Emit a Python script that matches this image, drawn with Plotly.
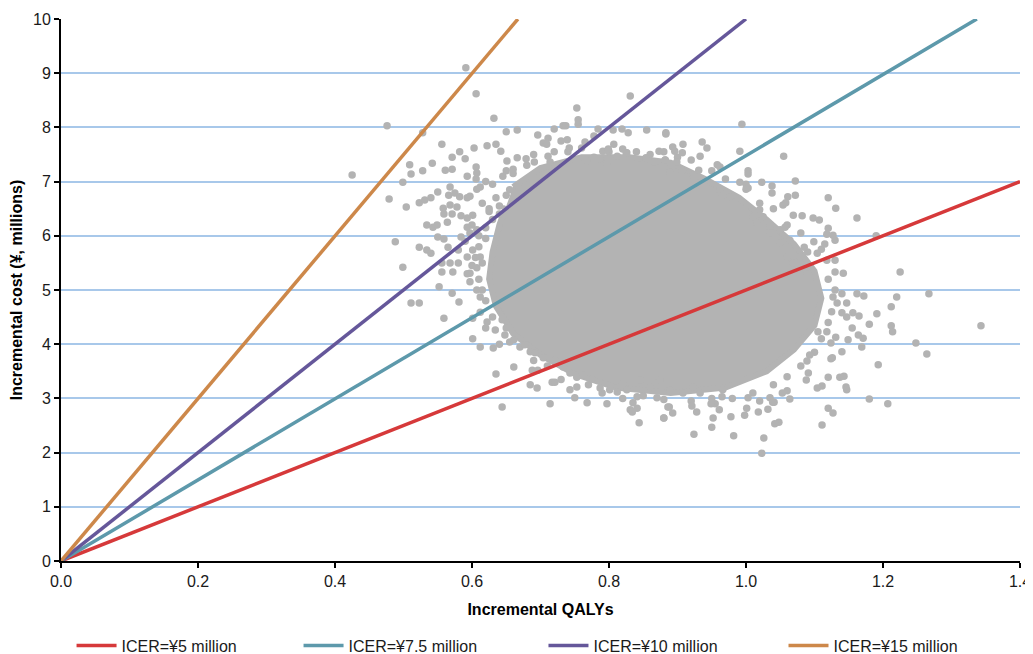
import plotly.graph_objects as go

# ---- ICER threshold lines (end points) ----
line_names = ["ICER=¥5 million", "ICER=¥7.5 million", "ICER=¥10 million", "ICER=¥15 million"]
line_qaly = [[0, 1.4], [0, 1.337], [0, 1.0], [0, 0.667]]
line_cost = [[0, 7.0], [0, 10.0], [0, 10.0], [0, 10.0]]
line_colors = ["#d6393a", "#5d99ab", "#65579a", "#cd884a"]

# ---- dense core of the simulation cloud (outline) ----
core_qaly = [0.66, 0.70, 0.76, 0.83, 0.89, 0.94, 0.99, 1.03, 1.07, 1.10, 1.11, 1.10, 1.07, 1.03,
             0.97, 0.89, 0.81, 0.75, 0.70, 0.66, 0.635, 0.625, 0.63, 0.64, 0.65]
core_cost = [6.9, 7.25, 7.45, 7.45, 7.35, 7.05, 6.7, 6.3, 5.85, 5.35, 4.85, 4.35, 3.9, 3.5,
             3.2, 3.1, 3.2, 3.45, 3.8, 4.2, 4.7, 5.2, 5.7, 6.2, 6.55]

# ---- simulation points along the edge of the core ----
edge_qaly = [0.62, 0.63, 0.645, 0.66, 0.68, 0.69, 0.72, 0.74, 0.76, 0.80, 0.82, 0.84, 0.86, 0.88,
             0.90, 0.92, 0.95, 0.97, 1.00, 1.02, 1.04, 1.06, 1.08, 1.09, 1.11, 1.12, 1.13, 1.125,
             1.12, 1.11, 1.10, 1.08, 1.06, 1.04, 1.01, 0.98, 0.95, 0.92, 0.88, 0.85, 0.82, 0.79,
             0.77, 0.73, 0.71, 0.69, 0.67, 0.65, 0.63, 0.62, 0.615, 0.61, 0.605, 0.61, 0.625,
             0.60, 0.59, 0.60, 0.62, 0.64]
edge_cost = [7.0, 6.95, 7.1, 7.15, 7.3, 7.5, 7.55, 7.55, 7.62, 7.55, 7.6, 7.55, 7.5, 7.55,
             7.45, 7.4, 7.2, 7.05, 6.95, 6.6, 6.5, 6.2, 6.05, 5.7, 5.75, 5.2, 5.0, 4.6,
             4.4, 4.1, 3.85, 3.6, 3.4, 3.25, 3.1, 3.0, 3.0, 2.95, 2.98, 3.05, 3.0, 3.1,
             3.25, 3.35, 3.6, 3.7, 3.95, 4.3, 4.5, 4.8, 5.0, 5.2, 5.6, 6.0, 6.5,
             6.2, 5.9, 5.45, 4.3, 4.0]

# ---- individual simulation points around the core ----
pts_qaly = [
    0.606, 0.591, 0.831, 0.753, 0.755, 0.755, 0.476, 0.632, 0.528, 0.650, 0.666, 0.696, 0.720,
    0.733, 0.737, 0.784, 0.806, 0.819, 0.828, 0.855, 0.883, 0.556, 0.603, 0.622, 0.635, 0.642,
    0.704, 0.711, 0.709, 0.730, 0.739, 0.742, 0.765, 0.778, 0.807, 0.826, 0.509, 0.542, 0.582,
    0.571, 0.590, 0.561, 0.571, 0.511, 0.528, 0.499, 0.593, 0.606, 0.607, 0.651, 0.666, 0.679,
    0.691, 0.650, 0.660, 0.711, 0.714, 0.768, 0.778, 0.791, 0.799, 0.787, 0.797, 0.812, 0.825,
    0.854, 0.866, 0.873, 0.882, 0.479, 0.504, 0.523, 0.531, 0.540, 0.550, 0.568, 0.566, 0.575,
    0.582, 0.593, 0.597, 0.607, 0.606, 0.612, 0.558, 0.568, 0.578, 0.559, 0.571, 0.564, 0.584,
    0.593, 0.601, 0.534, 0.543, 0.549, 0.550, 0.559, 0.584, 0.593, 0.597, 0.607, 0.488, 0.523,
    0.534, 0.540, 0.499, 0.556, 0.568, 0.580, 0.572, 0.556, 0.593, 0.601, 0.612, 0.607, 0.597,
    0.565, 0.580, 0.615, 0.625, 0.630, 0.620, 0.635, 0.640, 0.640, 0.650, 0.655, 0.620, 0.610,
    0.615, 0.425,
    0.994, 0.883, 0.936, 0.943, 0.908, 0.893, 0.896, 0.991, 1.055, 0.933, 0.907, 0.899, 0.882,
    0.958, 0.962, 1.003, 1.003, 0.931, 0.923, 0.924, 0.907, 0.889, 0.991, 1.023, 1.038, 1.072,
    1.000, 1.003, 0.962, 0.966, 0.977, 1.038, 1.061, 1.072, 1.120, 1.131, 1.162, 1.054, 1.058,
    1.069, 1.082, 1.098, 1.107, 1.120, 1.118, 1.127, 1.130, 1.190, 1.225, 1.085, 1.099, 1.115,
    1.104, 1.118, 1.130, 1.142, 1.130, 1.035, 1.050, 1.057, 1.064, 1.050, 1.035, 1.079, 1.069,
    1.089, 1.060, 1.079, 1.020, 1.025, 1.010, 1.016,
    1.267, 1.220, 1.212, 1.191, 1.180, 1.212, 1.214, 1.248, 1.264, 1.193, 1.180, 1.207, 1.162,
    1.172, 1.140, 1.147, 1.133, 1.127, 1.140, 1.147, 1.156, 1.165, 1.155, 1.164, 1.171, 1.169,
    1.149, 1.140, 1.126, 1.124, 1.120, 1.137, 1.143, 1.146, 1.147, 1.120, 1.127, 1.111, 1.104,
    1.111, 1.091, 1.088, 1.093, 1.089, 1.124, 1.131, 1.118, 1.105, 1.064, 1.053, 1.060, 1.041,
    1.032, 1.048, 1.042, 1.026, 1.023, 0.982, 0.924, 1.018, 1.001, 0.998, 0.978, 0.961, 0.952,
    0.950, 0.955, 0.949, 0.928, 0.921, 0.888, 0.893, 0.880, 1.003, 1.020, 1.035, 1.039, 0.965,
    0.966, 0.933, 0.923, 0.908, 0.889, 1.343,
    0.511, 0.523, 0.552, 0.571, 0.581, 0.559, 0.593, 0.597, 0.607, 0.612, 0.601, 0.612, 0.622,
    0.634, 0.644, 0.601, 0.612, 0.631, 0.648, 0.655, 0.661, 0.661, 0.635, 0.644, 0.677, 0.685,
    0.692, 0.704, 0.688, 0.696, 0.685, 0.695, 0.717, 0.721, 0.714, 0.721, 0.733, 0.743, 0.753,
    0.762, 0.743, 0.753, 0.750, 0.768, 0.797, 0.775, 0.787, 0.801, 0.812, 0.831, 0.834, 0.841,
    0.844, 0.835, 0.841, 0.826, 0.870, 0.880, 0.886, 0.860, 0.874, 0.845, 0.820,
]
pts_cost = [
    8.62, 9.10, 8.58, 8.36, 8.14, 8.06, 8.03, 8.17, 7.90, 7.92, 7.95, 7.86, 7.97,
    8.03, 8.03, 7.97, 7.95, 7.97, 7.90, 7.95, 7.88, 7.69, 7.62, 7.66, 7.69, 7.56,
    7.71, 7.80, 7.69, 7.75, 7.77, 7.62, 7.73, 7.84, 7.69, 7.53, 7.31, 7.34, 7.55,
    7.45, 7.42, 7.21, 7.23, 7.14, 7.20, 6.99, 7.10, 7.27, 7.16, 7.38, 7.44, 7.42,
    7.36, 7.20, 7.23, 7.47, 7.36, 7.38, 7.45, 7.56, 7.60, 7.42, 7.34, 7.47, 7.53,
    7.44, 7.36, 7.56, 7.40, 6.68, 6.53, 6.61, 6.66, 6.70, 6.81, 6.90, 6.75, 6.79,
    6.72, 6.70, 6.73, 6.86, 7.05, 6.90, 6.51, 6.57, 6.53, 6.40, 6.40, 6.25, 6.37,
    6.33, 6.38, 6.20, 6.16, 6.20, 5.98, 5.94, 5.98, 6.16, 6.05, 6.11, 5.89, 5.79,
    5.74, 5.68, 5.42, 5.50, 5.50, 5.50, 5.33, 5.33, 5.61, 5.74, 5.61, 5.41, 5.31,
    5.79, 5.74, 6.60, 6.45, 6.30, 6.15, 6.70, 6.55, 6.40, 6.75, 6.85, 5.95, 5.80,
    5.50, 7.12,
    8.06, 7.90, 7.73, 7.62, 7.69, 7.64, 7.56, 7.56, 7.47, 7.47, 7.53, 7.36, 7.40,
    7.31, 7.27, 7.20, 7.14, 7.21, 7.12, 7.07, 7.21, 7.18, 6.99, 6.99, 6.92, 7.01,
    6.86, 6.88, 6.84, 6.75, 6.72, 6.79, 6.72, 6.75, 6.70, 6.51, 6.33, 6.57, 6.61,
    6.38, 6.37, 6.33, 6.29, 6.14, 6.03, 6.01, 5.92, 6.00, 5.33, 5.79, 5.89, 5.85,
    5.68, 5.55, 5.55, 5.31, 5.33, 6.16, 6.11, 6.16, 5.92, 5.87, 6.05, 5.61, 5.50,
    5.42, 5.61, 5.31, 6.48, 6.35, 6.35, 6.24,
    4.93, 4.87, 4.69, 4.56, 4.37, 4.34, 4.23, 4.02, 3.82, 3.62, 2.99, 2.90, 4.93,
    4.89, 4.93, 4.76, 4.76, 4.87, 4.58, 4.50, 4.58, 4.52, 4.30, 4.17, 4.11, 3.95,
    4.08, 3.86, 3.75, 3.73, 3.39, 3.39, 3.41, 3.21, 3.16, 2.82, 2.73, 2.51, 3.19,
    3.23, 3.47, 3.34, 3.80, 3.69, 4.02, 4.13, 4.23, 4.23, 2.99, 3.10, 3.14, 2.93,
    2.80, 2.56, 2.53, 2.27, 1.99, 2.31, 2.34, 2.75, 2.82, 2.69, 2.66, 2.79, 2.64,
    2.47, 2.90, 2.90, 2.75, 2.86, 2.84, 2.73, 2.64, 3.01, 2.95, 3.01, 2.93, 3.03,
    3.16, 3.10, 3.21, 3.10, 3.16, 4.34,
    4.76, 4.76, 5.06, 4.94, 4.78, 4.48, 5.30, 5.15, 5.00, 4.87, 4.48, 4.59, 4.41,
    4.26, 4.45, 4.10, 3.95, 3.93, 4.17, 4.04, 4.08, 3.58, 3.45, 2.84, 3.99, 3.86,
    3.84, 3.75, 3.52, 3.52, 3.25, 3.19, 3.30, 3.30, 2.90, 3.71, 3.58, 3.47, 3.39,
    3.43, 3.16, 3.21, 3.01, 2.92, 2.90, 3.36, 3.19, 3.16, 3.12, 2.79, 2.75, 2.82,
    2.55, 2.92, 3.03, 3.16, 3.01, 2.64, 2.84, 3.21, 3.34, 3.34, 3.28,
]

x_ticks = [0.0, 0.2, 0.4, 0.6, 0.8, 1.0, 1.2, 1.4]
y_ticks = [0, 1, 2, 3, 4, 5, 6, 7, 8, 9, 10]

GRAY = "#b3b3b3"
FONT = "Liberation Sans, Arial, sans-serif"
TXT = "#1a1a1a"

fig = go.Figure()

fig.add_trace(go.Scatter(
    x=core_qaly, y=core_cost, mode="lines", fill="toself",
    fillcolor=GRAY, line=dict(color=GRAY, width=6), showlegend=False, hoverinfo="skip"))

fig.add_trace(go.Scatter(
    x=edge_qaly + pts_qaly, y=edge_cost + pts_cost, mode="markers",
    marker=dict(color=GRAY, size=7.5, line=dict(width=0)), showlegend=False))

legend_ids = ["legend", "legend2", "legend3", "legend4"]
legend_x = [0.011, 0.2477, 0.5031, 0.7534]
for name, xs, ys, col, lid in zip(line_names, line_qaly, line_cost, line_colors, legend_ids):
    fig.add_trace(go.Scatter(x=xs, y=ys, mode="lines", name=name, legend=lid,
                             line=dict(color=col, width=3.5)))

legend_style = dict(orientation="h", xanchor="left", y=-0.156, yanchor="middle",
                    font=dict(size=16, family=FONT, color=TXT), itemwidth=40,
                    bgcolor="rgba(0,0,0,0)")
layout_legends = {lid: dict(x=lx, **legend_style) for lid, lx in zip(legend_ids, legend_x)}

# the page body adds an 8 px offset; the figure is made a bit larger than the
# window so nothing near the edges is clipped (plot area stays 959 x 542 px)
fig.update_layout(
    width=1060, height=680,
    margin=dict(l=53, r=48, t=11, b=127, autoexpand=False),
    paper_bgcolor="white", plot_bgcolor="white",
    font=dict(family=FONT, size=16, color=TXT),
    showlegend=True,
    **layout_legends,
)

fig.update_xaxes(
    range=[0, 1.4], tickvals=x_ticks, ticktext=[f"{v:.1f}" for v in x_ticks],
    showgrid=False, zeroline=False, automargin=False,
    showline=True, linecolor="black", linewidth=2,
    ticks="outside", ticklen=5, tickwidth=2, tickcolor="black",
    ticklabeloverflow="allow",
    tickfont=dict(size=16, family=FONT, color=TXT),
    title=dict(text="<b>Incremental QALYs</b>", font=dict(size=16, family=FONT, color="black"), standoff=15),
)
fig.update_yaxes(
    range=[0, 10], tickvals=y_ticks, automargin=False,
    showgrid=True, gridcolor="#a8c8ea", gridwidth=2, zeroline=False,
    showline=True, linecolor="black", linewidth=2,
    ticks="outside", ticklen=5, tickwidth=2, tickcolor="black",
    tickfont=dict(size=16, family=FONT, color=TXT),
    title=dict(text="<b>Incremental cost (¥, millions)</b>", font=dict(size=16, family=FONT, color="black"), standoff=6),
)

fig.write_html("out.html", post_script="document.body.style.overflow = 'hidden';")
